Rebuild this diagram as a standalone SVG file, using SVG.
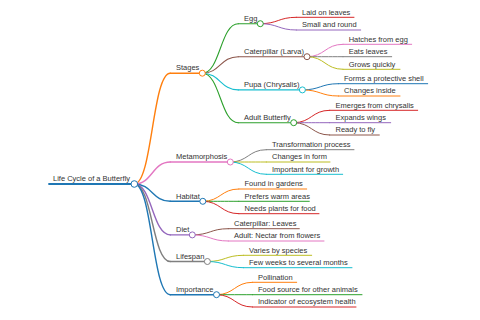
<svg xmlns="http://www.w3.org/2000/svg" width="480" height="320" viewBox="0 0 480 320">
<style>
text{font-family:"Liberation Sans",Arial,sans-serif;font-size:7.5px;fill:#333}
path,line{fill:none;stroke-linecap:round}
circle{fill:#fff;stroke-width:1}
.w0{stroke-width:1.8}.w1{stroke-width:1.4}.w2{stroke-width:1.1}.w3{stroke-width:1}
.blue{stroke:#1f77b4}.orange{stroke:#ff7f0e}.green{stroke:#2ca02c}.red{stroke:#d62728}.purple{stroke:#9467bd}.brown{stroke:#8c564b}.pink{stroke:#e377c2}.grey{stroke:#7f7f7f}.olive{stroke:#bcbd22}.cyan{stroke:#17becf}
</style>
<rect width="480" height="320" fill="#fff"/>
<g id="connectors">
<path class="w1 orange" d="M134.3,184 C152.3,184 152.3,73.2 170.3,73.2"/>
<path class="w1 pink" d="M134.3,184 C152.3,184 152.3,162 170.3,162"/>
<path class="w1 blue" d="M134.3,184 C152.3,184 152.3,201.3 170.3,201.3"/>
<path class="w1 purple" d="M134.3,184 C152.3,184 152.3,234.9 170.3,234.9"/>
<path class="w1 grey" d="M134.3,184 C152.3,184 152.3,261.5 170.3,261.5"/>
<path class="w1 blue" d="M134.3,184 C152.3,184 152.3,294.7 170.3,294.7"/>
<path class="w2 green" d="M202.3,73.2 C220.3,73.2 220.3,23.7 238.3,23.7"/>
<path class="w2 brown" d="M202.3,73.2 C220.3,73.2 220.3,56.7 238.3,56.7"/>
<path class="w2 cyan" d="M202.3,73.2 C220.3,73.2 220.3,89.9 238.3,89.9"/>
<path class="w2 green" d="M202.3,73.2 C220.3,73.2 220.3,122.7 238.3,122.7"/>
<path class="w3 red" d="M260.3,23.7 C278.3,23.7 278.3,17.3 296.3,17.3"/>
<path class="w3 purple" d="M260.3,23.7 C278.3,23.7 278.3,30 296.3,30"/>
<path class="w3 pink" d="M307,56.7 C325,56.7 325,44.3 343,44.3"/>
<path class="w3 grey" d="M307,56.7 C325,56.7 325,56.7 343,56.7"/>
<path class="w3 olive" d="M307,56.7 C325,56.7 325,69.3 343,69.3"/>
<path class="w3 blue" d="M302.4,89.9 C320.4,89.9 320.4,83.7 338.4,83.7"/>
<path class="w3 orange" d="M302.4,89.9 C320.4,89.9 320.4,96 338.4,96"/>
<path class="w3 red" d="M293.7,122.7 C311.7,122.7 311.7,110.3 329.7,110.3"/>
<path class="w3 purple" d="M293.7,122.7 C311.7,122.7 311.7,122.7 329.7,122.7"/>
<path class="w3 brown" d="M293.7,122.7 C311.7,122.7 311.7,135 329.7,135"/>
<path class="w3 grey" d="M230.3,162 C248.3,162 248.3,149.7 266.3,149.7"/>
<path class="w3 olive" d="M230.3,162 C248.3,162 248.3,162 266.3,162"/>
<path class="w3 cyan" d="M230.3,162 C248.3,162 248.3,174.3 266.3,174.3"/>
<path class="w3 orange" d="M202.8,201.3 C220.8,201.3 220.8,189 238.8,189"/>
<path class="w3 green" d="M202.8,201.3 C220.8,201.3 220.8,201.3 238.8,201.3"/>
<path class="w3 red" d="M202.8,201.3 C220.8,201.3 220.8,213.7 238.8,213.7"/>
<path class="w3 brown" d="M192.3,234.9 C210.3,234.9 210.3,228.7 228.3,228.7"/>
<path class="w3 pink" d="M192.3,234.9 C210.3,234.9 210.3,241 228.3,241"/>
<path class="w3 olive" d="M207.4,261.5 C225.4,261.5 225.4,255.3 243.4,255.3"/>
<path class="w3 cyan" d="M207.4,261.5 C225.4,261.5 225.4,267.7 243.4,267.7"/>
<path class="w3 orange" d="M216.5,294.7 C234.5,294.7 234.5,282.3 252.5,282.3"/>
<path class="w3 green" d="M216.5,294.7 C234.5,294.7 234.5,294.7 252.5,294.7"/>
<path class="w3 red" d="M216.5,294.7 C234.5,294.7 234.5,307 252.5,307"/>
</g>
<g id="root"><line class="w0 blue" x1="49" y1="184" x2="134.3" y2="184"/><circle class="blue" cx="134.3" cy="184" r="3.3"/><text x="53" y="181.2">Life Cycle of a Butterfly</text></g>
<g id="stages"><line class="w1 orange" x1="170.3" y1="73.2" x2="202.3" y2="73.2"/><circle class="orange" cx="202.3" cy="73.2" r="3"/><text x="176" y="70.4">Stages</text></g>
<g id="egg"><line class="w2 green" x1="238.3" y1="23.7" x2="260.3" y2="23.7"/><circle class="green" cx="260.3" cy="23.7" r="3"/><text x="244" y="20.9">Egg</text></g>
<g id="egg1"><line class="w3 red" x1="296.3" y1="17.3" x2="354" y2="17.3"/><text x="302" y="14.5">Laid on leaves</text></g>
<g id="egg2"><line class="w3 purple" x1="296.3" y1="30" x2="360.7" y2="30"/><text x="302" y="27.2">Small and round</text></g>
<g id="caterpillar"><line class="w2 brown" x1="238.3" y1="56.7" x2="307" y2="56.7"/><circle class="brown" cx="307" cy="56.7" r="3"/><text x="244" y="53.9">Caterpillar (Larva)</text></g>
<g id="cat1"><line class="w3 pink" x1="343" y1="44.3" x2="411.7" y2="44.3"/><text x="348.7" y="41.5">Hatches from egg</text></g>
<g id="cat2"><line class="w3 grey" x1="343" y1="56.7" x2="391.7" y2="56.7"/><text x="348.7" y="53.9">Eats leaves</text></g>
<g id="cat3"><line class="w3 olive" x1="343" y1="69.3" x2="400" y2="69.3"/><text x="348.7" y="66.5">Grows quickly</text></g>
<g id="pupa"><line class="w2 cyan" x1="238.3" y1="89.9" x2="302.4" y2="89.9"/><circle class="cyan" cx="302.4" cy="89.9" r="3"/><text x="244" y="87.1">Pupa (Chrysalis)</text></g>
<g id="pupa1"><line class="w3 blue" x1="338.4" y1="83.7" x2="427.7" y2="83.7"/><text x="344" y="80.9">Forms a protective shell</text></g>
<g id="pupa2"><line class="w3 orange" x1="338.4" y1="96" x2="400" y2="96"/><text x="344" y="93.2">Changes inside</text></g>
<g id="adult"><line class="w2 green" x1="238.3" y1="122.7" x2="293.7" y2="122.7"/><circle class="green" cx="293.7" cy="122.7" r="3"/><text x="244" y="119.9">Adult Butterfly</text></g>
<g id="adult1"><line class="w3 red" x1="329.7" y1="110.3" x2="417.7" y2="110.3"/><text x="335.5" y="107.5">Emerges from chrysalis</text></g>
<g id="adult2"><line class="w3 purple" x1="329.7" y1="122.7" x2="390.7" y2="122.7"/><text x="335.5" y="119.9">Expands wings</text></g>
<g id="adult3"><line class="w3 brown" x1="329.7" y1="135" x2="379.3" y2="135"/><text x="335.5" y="132.2">Ready to fly</text></g>
<g id="metamorphosis"><line class="w1 pink" x1="170.3" y1="162" x2="230.3" y2="162"/><circle class="pink" cx="230.3" cy="162" r="3"/><text x="176" y="159.2">Metamorphosis</text></g>
<g id="meta1"><line class="w3 grey" x1="266.3" y1="149.7" x2="354" y2="149.7"/><text x="272" y="146.9">Transformation process</text></g>
<g id="meta2"><line class="w3 olive" x1="266.3" y1="162" x2="330" y2="162"/><text x="272" y="159.2">Changes in form</text></g>
<g id="meta3"><line class="w3 cyan" x1="266.3" y1="174.3" x2="342.7" y2="174.3"/><text x="272" y="171.5">Important for growth</text></g>
<g id="habitat"><line class="w1 blue" x1="170.3" y1="201.3" x2="202.8" y2="201.3"/><circle class="blue" cx="202.8" cy="201.3" r="3"/><text x="176" y="198.5">Habitat</text></g>
<g id="hab1"><line class="w3 orange" x1="238.8" y1="189" x2="306.7" y2="189"/><text x="244.5" y="186.2">Found in gardens</text></g>
<g id="hab2"><line class="w3 green" x1="238.8" y1="201.3" x2="309.3" y2="201.3"/><text x="244.5" y="198.5">Prefers warm areas</text></g>
<g id="hab3"><line class="w3 red" x1="238.8" y1="213.7" x2="319" y2="213.7"/><text x="244.5" y="210.9">Needs plants for food</text></g>
<g id="diet"><line class="w1 purple" x1="170.3" y1="234.9" x2="192.3" y2="234.9"/><circle class="purple" cx="192.3" cy="234.9" r="3"/><text x="176" y="232.1">Diet</text></g>
<g id="diet1"><line class="w3 brown" x1="228.3" y1="228.7" x2="299.3" y2="228.7"/><text x="234" y="225.9">Caterpillar: Leaves</text></g>
<g id="diet2"><line class="w3 pink" x1="228.3" y1="241" x2="324" y2="241"/><text x="234" y="238.2">Adult: Nectar from flowers</text></g>
<g id="lifespan"><line class="w1 grey" x1="170.3" y1="261.5" x2="207.4" y2="261.5"/><circle class="grey" cx="207.4" cy="261.5" r="3"/><text x="176" y="258.7">Lifespan</text></g>
<g id="life1"><line class="w3 olive" x1="243.4" y1="255.3" x2="311.7" y2="255.3"/><text x="249" y="252.5">Varies by species</text></g>
<g id="life2"><line class="w3 cyan" x1="243.4" y1="267.7" x2="352" y2="267.7"/><text x="249" y="264.9">Few weeks to several months</text></g>
<g id="importance"><line class="w1 blue" x1="170.3" y1="294.7" x2="216.5" y2="294.7"/><circle class="blue" cx="216.5" cy="294.7" r="3"/><text x="176" y="291.9">Importance</text></g>
<g id="imp1"><line class="w3 orange" x1="252.5" y1="282.3" x2="296.7" y2="282.3"/><text x="258" y="279.5">Pollination</text></g>
<g id="imp2"><line class="w3 green" x1="252.5" y1="294.7" x2="362" y2="294.7"/><text x="258" y="291.9">Food source for other animals</text></g>
<g id="imp3"><line class="w3 red" x1="252.5" y1="307" x2="356" y2="307"/><text x="258" y="304.2">Indicator of ecosystem health</text></g>
</svg>
